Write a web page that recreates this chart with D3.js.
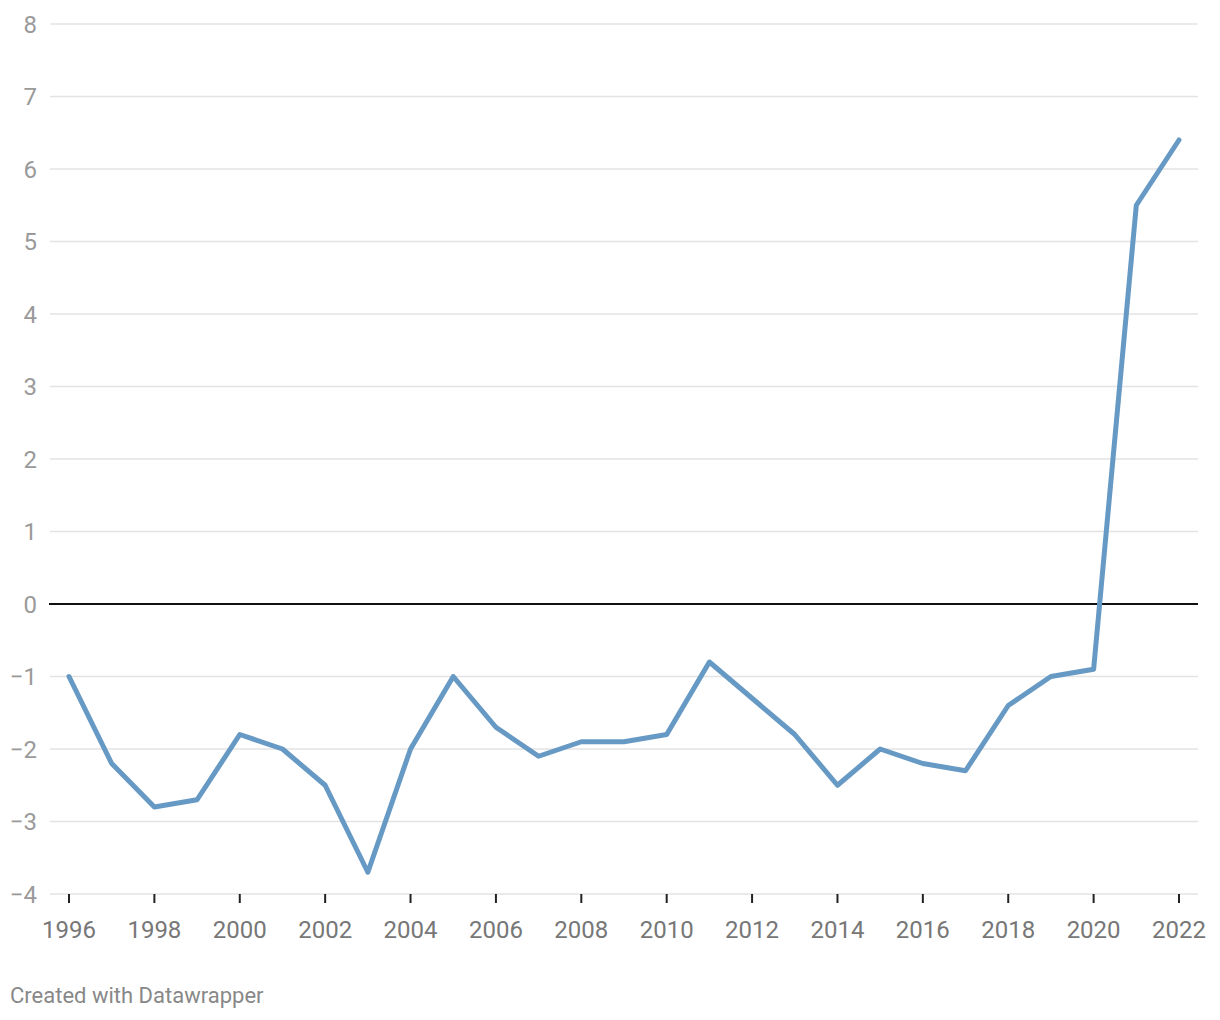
<!DOCTYPE html>
<html><head><meta charset="utf-8">
<script src="https://cdn.jsdelivr.net/npm/d3@7"></script>
<style>
body{margin:0;background:#fff;font-family:Roboto,"Noto Sans",sans-serif;}
</style></head>
<body>
<svg id="c" width="1220" height="1020"></svg>
<script>
const years = [1996,1997,1998,1999,2000,2001,2002,2003,2004,2005,2006,2007,2008,2009,2010,2011,2012,2013,2014,2015,2016,2017,2018,2019,2020,2021,2022];
const values = [-1.0,-2.2,-2.8,-2.7,-1.8,-2.0,-2.5,-3.7,-2.0,-1.0,-1.7,-2.1,-1.9,-1.9,-1.8,-0.8,-1.3,-1.8,-2.5,-2.0,-2.2,-2.3,-1.4,-1.0,-0.9,5.5,6.4];
const yTicks = [-4,-3,-2,-1,0,1,2,3,4,5,6,7,8];
const xTicks = [1996,1998,2000,2002,2004,2006,2008,2010,2012,2014,2016,2018,2020,2022];

const svg = d3.select("#c");
const x = d3.scaleLinear().domain([1996,2022]).range([69,1179]);
const y = d3.scaleLinear().domain([-4,8]).range([894,24]);

const grid = svg.append("g");
grid.selectAll("line").data(yTicks.filter(d=>d!==0)).join("line")
  .attr("x1",50).attr("x2",1198)
  .attr("y1",d=>y(d)).attr("y2",d=>y(d))
  .attr("stroke","#e3e3e3").attr("stroke-width",1.5);

svg.append("g").selectAll("text").data(yTicks).join("text")
  .attr("x",37).attr("y",d=>y(d)+8.5)
  .attr("text-anchor","end")
  .attr("font-size",24).attr("fill","#9a9a9a")
  .text(d=>d<0?"\u2212"+Math.abs(d):d);

svg.append("line").attr("x1",49).attr("x2",1198)
  .attr("y1",y(0)).attr("y2",y(0))
  .attr("stroke","#111").attr("stroke-width",1.8);

svg.append("g").selectAll("line").data(xTicks).join("line")
  .attr("x1",d=>x(d)).attr("x2",d=>x(d))
  .attr("y1",894).attr("y2",903)
  .attr("stroke","#222").attr("stroke-width",2);

svg.append("g").selectAll("text").data(xTicks).join("text")
  .attr("x",d=>x(d)).attr("y",938)
  .attr("text-anchor","middle")
  .attr("font-size",24).attr("fill","#777")
  .text(d=>d);

const line = d3.line().x((d,i)=>x(years[i])).y(d=>y(d));
svg.append("path").datum(values)
  .attr("d",line).attr("fill","none")
  .attr("stroke","#6699c4").attr("stroke-width",5)
  .attr("stroke-linejoin","round").attr("stroke-linecap","round");

svg.append("text").attr("x",10).attr("y",1003)
  .attr("font-size",22).attr("fill","#888")
  .text("Created with Datawrapper");
</script>
</body></html>
